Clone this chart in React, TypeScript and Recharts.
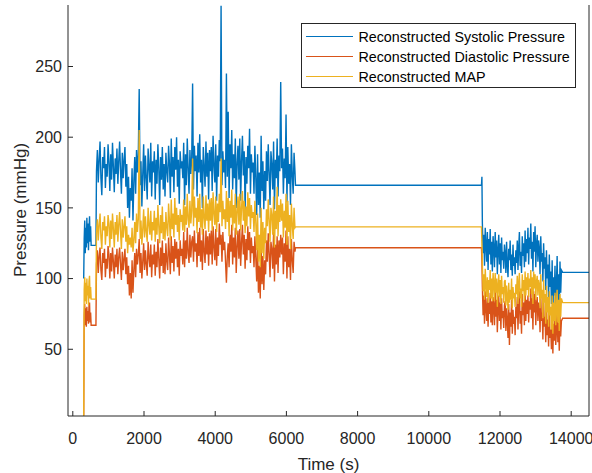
import { LineChart, Line, XAxis, YAxis, Legend, Label } from "recharts";

// sample times (s) and reconstructed pressures (mmHg), per recording segment
const T_PRE = [306, 320, 335, 350, 365, 380, 395, 410, 425, 440, 455, 470, 485, 500, 515, 650];
const SYS_PRE = [100, 128, 141, 118, 136, 122, 143, 125, 139, 120, 134, 144, 126, 137, 123.5, 123.5];
const DIA_PRE = [3, 74, 82, 67, 79, 66, 80, 70, 77, 68, 81, 83, 69, 76, 67, 67];
const MAP_PRE = [3, 92, 101, 84, 97, 82, 100, 88, 95, 81, 98, 102, 86, 94, 85.5, 85.5];

const T_MAIN = [
  665, 690, 715, 740, 765, 790, 815, 840, 865, 890, 915, 940, 965, 990, 1015, 1040,
  1065, 1090, 1115, 1140, 1165, 1190, 1215, 1240, 1265, 1290, 1315, 1340, 1365, 1390, 1415, 1440,
  1465, 1490, 1515, 1540, 1565, 1590, 1615, 1640, 1665, 1690, 1715, 1740, 1765, 1790, 1815, 1840,
  1865, 1890, 1915, 1940, 1965, 1990, 2015, 2040, 2065, 2090, 2115, 2140, 2165, 2190, 2215, 2240,
  2265, 2290, 2315, 2340, 2365, 2390, 2415, 2440, 2465, 2490, 2515, 2540, 2565, 2590, 2615, 2640,
  2665, 2690, 2715, 2740, 2765, 2790, 2815, 2840, 2865, 2890, 2915, 2940, 2965, 2990, 3015, 3040,
  3065, 3090, 3115, 3140, 3165, 3190, 3215, 3240, 3265, 3290, 3315, 3340, 3365, 3390, 3415, 3440,
  3465, 3490, 3515, 3540, 3565, 3590, 3615, 3640, 3665, 3690, 3715, 3740, 3765, 3790, 3815, 3840,
  3865, 3890, 3915, 3940, 3965, 3990, 4015, 4040, 4065, 4090, 4115, 4140, 4165, 4190, 4215, 4240,
  4265, 4290, 4315, 4340, 4365, 4390, 4415, 4440, 4465, 4490, 4515, 4540, 4565, 4590, 4615, 4640,
  4665, 4690, 4715, 4740, 4765, 4790, 4815, 4840, 4865, 4890, 4915, 4940, 4965, 4990, 5015, 5040,
  5065, 5090, 5115, 5140, 5165, 5190, 5215, 5240, 5265, 5290, 5315, 5340, 5365, 5390, 5415, 5440,
  5465, 5490, 5515, 5540, 5565, 5590, 5615, 5640, 5665, 5690, 5715, 5740, 5765, 5790, 5815, 5840,
  5865, 5890, 5915, 5940, 5965, 5990, 6015, 6040, 6065, 6090, 6115, 6140, 6165, 6190, 6215, 6240,
];
const SYS_MAIN = [
  176, 191, 168, 184, 197, 171, 159, 186, 178, 193, 164, 181, 172, 195, 183, 162,
  188, 170, 196, 179, 161, 185, 174, 192, 167, 183, 197, 176, 160, 189, 171, 184,
  193, 165, 181, 150, 172, 143, 164, 155, 178, 141, 169, 186, 160, 191, 175, 188,
  234, 166, 183, 151, 174, 195, 162, 187, 171, 156, 192, 179, 168, 196, 158, 183,
  175, 190, 156, 184, 167, 195, 178, 152, 186, 170, 193, 163, 181, 158, 189, 176,
  168, 194, 181, 157, 199, 172, 186, 161, 193, 177, 200, 165, 184, 153, 190, 178,
  183, 171, 196, 152, 188, 166, 199, 178, 160, 191, 174, 185, 238, 163, 194, 176,
  187, 158, 196, 175, 202, 168, 184, 150, 193, 179, 165, 197, 172, 189, 156, 191,
  176, 193, 162, 201, 180, 168, 195, 155, 187, 172, 198, 183, 293, 166, 190, 175,
  184, 164, 245, 172, 218, 157, 195, 178, 205, 163, 188, 171, 199, 150, 182, 194,
  170, 199, 155, 184, 201, 173, 190, 148, 186, 167, 194, 178, 206, 160, 188, 175,
  182, 160, 194, 171, 145, 188, 152, 175, 143, 201, 162, 183, 149, 176, 155, 190,
  169, 195, 174, 152, 190, 181, 163, 197, 149, 184, 171, 199, 158, 187, 176, 239,
  178, 192, 160, 185, 171, 216, 154, 193, 167, 181, 152, 195, 173, 160, 189, 176,
];
const DIA_MAIN = [
  110, 120, 104, 116, 122, 106, 99, 118, 111, 121, 101, 114, 107, 123, 117, 100,
  118, 105, 122, 112, 100, 117, 108, 121, 103, 115, 122, 110, 99, 119, 106, 114,
  121, 103, 115, 96, 109, 88, 104, 86, 113, 90, 106, 118, 101, 121, 110, 117,
  128, 104, 118, 100, 112, 125, 106, 120, 110, 102, 126, 115, 108, 124, 101, 117,
  110, 124, 102, 119, 108, 128, 114, 100, 122, 109, 127, 104, 118, 103, 125, 112,
  106, 129, 117, 103, 130, 111, 123, 105, 128, 114, 126, 108, 121, 102, 127, 116,
  121, 110, 133, 108, 127, 114, 136, 118, 111, 131, 115, 126, 130, 112, 134, 119,
  125, 108, 133, 116, 136, 112, 127, 106, 135, 119, 111, 134, 117, 130, 109, 132,
  117, 134, 110, 137, 122, 113, 135, 109, 129, 116, 139, 124, 131, 112, 133, 120,
  126, 112, 97, 116, 125, 108, 131, 119, 138, 110, 129, 115, 136, 104, 123, 134,
  114, 135, 109, 126, 138, 117, 131, 107, 128, 113, 137, 120, 133, 111, 129, 118,
  123, 108, 130, 115, 98, 122, 90, 109, 86, 125, 96, 116, 92, 113, 103, 127,
  112, 132, 118, 101, 126, 121, 107, 133, 98, 124, 110, 130, 104, 127, 115, 131,
  117, 129, 103, 125, 112, 134, 100, 130, 108, 121, 99, 128, 113, 104, 126, 119,
];
const MAP_MAIN = [
  133, 142, 127, 138, 146, 129, 121, 140, 134, 144, 124, 137, 130, 145, 139, 122,
  141, 128, 146, 135, 122, 140, 131, 145, 126, 138, 147, 133, 121, 142, 129, 137,
  144, 126, 137, 118, 131, 124, 129, 122, 136, 119, 127, 140, 125, 146, 133, 142,
  205, 128, 141, 124, 135, 149, 129, 144, 133, 126, 150, 138, 131, 148, 127, 140,
  134, 148, 126, 143, 131, 152, 137, 125, 145, 132, 151, 128, 140, 127, 147, 136,
  130, 153, 141, 127, 156, 135, 146, 129, 157, 138, 150, 133, 145, 127, 149, 140,
  145, 134, 156, 133, 151, 138, 160, 142, 136, 155, 139, 148, 185, 137, 158, 143,
  150, 132, 157, 140, 160, 136, 149, 131, 158, 143, 135, 159, 141, 153, 133, 156,
  141, 157, 134, 161, 146, 138, 158, 133, 153, 140, 160, 147, 185, 137, 155, 142,
  149, 135, 162, 140, 157, 130, 155, 143, 163, 134, 152, 139, 160, 131, 147, 158,
  138, 160, 134, 150, 162, 141, 155, 132, 151, 137, 161, 144, 157, 135, 152, 143,
  147, 133, 155, 140, 120, 146, 112, 131, 108, 150, 118, 140, 114, 136, 125, 149,
  137, 156, 141, 126, 150, 145, 131, 158, 122, 148, 135, 165, 130, 152, 140, 156,
  141, 153, 129, 148, 136, 160, 124, 155, 133, 145, 121, 153, 138, 128, 150, 136,
];

const T_GAP = [6255, 11480, 11492];
const SYS_GAP = [166, 166, 172];
const DIA_GAP = [121.8, 121.8, 112];
const MAP_GAP = [136.6, 136.6, 124];

const T_LATE = [
  11505, 11525, 11545, 11565, 11585, 11605, 11625, 11645, 11665, 11685, 11705, 11725, 11745, 11765, 11785, 11805,
  11825, 11845, 11865, 11885, 11905, 11925, 11945, 11965, 11985, 12005, 12025, 12045, 12065, 12085, 12105, 12125,
  12145, 12165, 12185, 12205, 12225, 12245, 12265, 12285, 12305, 12325, 12345, 12365, 12385, 12405, 12425, 12445,
  12465, 12485, 12505, 12525, 12545, 12565, 12585, 12605, 12625, 12645, 12665, 12685, 12705, 12725, 12745, 12765,
  12785, 12805, 12825, 12845, 12865, 12885, 12905, 12925, 12945, 12965, 12985, 13005, 13025, 13045, 13065, 13085,
  13105, 13125, 13145, 13165, 13185, 13205, 13225, 13245, 13265, 13285, 13305, 13325, 13345, 13365, 13385, 13405,
  13425, 13445, 13465, 13485, 13505, 13525, 13545, 13565, 13585, 13605, 13625, 13645, 13665, 13685, 13705, 13725,
];
const SYS_LATE = [
  139, 118, 131, 109, 136, 124, 112, 133, 106, 128, 117, 135, 110, 126, 105, 130,
  122, 108, 133, 115, 127, 103, 120, 131, 110, 125, 104, 129, 113, 119, 107, 124,
  118, 104, 126, 110, 101, 121, 113, 127, 106, 117, 102, 124, 109, 115, 103, 120,
  111, 127, 106, 122, 133, 109, 119, 104, 130, 116, 125, 108, 134, 112, 128, 118,
  136, 110, 129, 121, 139, 114, 126, 105, 133, 119, 137, 108, 124, 131, 112, 127,
  121, 103, 130, 112, 118, 98, 125, 107, 115, 92, 120, 100, 110, 86, 117, 94,
  105, 82, 113, 73, 101, 88, 109, 79, 96, 116, 84, 103, 76, 112, 90, 106,
];
const DIA_LATE = [
  94, 74, 88, 68, 91, 79, 70, 86, 66, 83, 75, 90, 69, 84, 67, 87,
  80, 67, 92, 73, 85, 62, 78, 88, 70, 83, 64, 86, 72, 77, 65, 81,
  84, 63, 79, 70, 58, 82, 53, 76, 66, 85, 61, 78, 68, 73, 60, 80,
  72, 87, 64, 81, 91, 68, 77, 61, 89, 74, 83, 67, 90, 70, 85, 75,
  88, 69, 84, 78, 93, 72, 86, 64, 91, 76, 89, 67, 82, 87, 70, 83,
  79, 62, 88, 70, 76, 57, 84, 66, 73, 55, 80, 60, 71, 52, 77, 58,
  64, 50, 72, 47, 68, 56, 75, 53, 62, 78, 55, 69, 49, 74, 59, 70,
];
const MAP_LATE = [
  110, 91, 103, 85, 107, 96, 87, 101, 83, 99, 92, 106, 86, 100, 84, 104,
  97, 84, 104, 90, 100, 80, 95, 103, 87, 99, 82, 102, 89, 94, 83, 98,
  99, 81, 95, 87, 78, 97, 83, 92, 85, 100, 79, 94, 86, 90, 80, 96,
  89, 102, 82, 97, 104, 86, 93, 80, 103, 91, 99, 84, 105, 88, 101, 92,
  104, 87, 100, 94, 106, 89, 101, 82, 105, 93, 103, 85, 98, 102, 88, 99,
  96, 79, 103, 86, 92, 72, 99, 83, 89, 68, 95, 76, 87, 66, 91, 74,
  80, 64, 88, 61, 83, 70, 90, 67, 77, 92, 69, 85, 63, 89, 73, 86,
];

const T_TAIL = [13760, 14500];
const SYS_TAIL = [104.4, 104.4];
const DIA_TAIL = [71.9, 71.9];
const MAP_TAIL = [83, 83];

const X_TICKS = [0, 2000, 4000, 6000, 8000, 10000, 12000, 14000];
const Y_TICKS = [50, 100, 150, 200, 250];

const SERIES = [
  { key: "sys", name: "Reconstructed Systolic Pressure", color: "#0072BD" },
  { key: "dia", name: "Reconstructed Diastolic Pressure", color: "#D95319" },
  { key: "map", name: "Reconstructed MAP", color: "#EDB120" },
];

const TIME = [...T_PRE, ...T_MAIN, ...T_GAP, ...T_LATE, ...T_TAIL];
const SYS = [...SYS_PRE, ...SYS_MAIN, ...SYS_GAP, ...SYS_LATE, ...SYS_TAIL];
const DIA = [...DIA_PRE, ...DIA_MAIN, ...DIA_GAP, ...DIA_LATE, ...DIA_TAIL];
const MAP = [...MAP_PRE, ...MAP_MAIN, ...MAP_GAP, ...MAP_LATE, ...MAP_TAIL];

const data = TIME.map((t, i) => ({ t, sys: SYS[i], dia: DIA[i], map: MAP[i] }));

const FONT = '"Liberation Sans", Arial, Helvetica, sans-serif';
const AXIS = "#262626";
const X_DOMAIN = [-135, 14500];
const Y_DOMAIN = [2.8, 293.5];

const tickStyle = { fontSize: 16, fill: AXIS, fontFamily: FONT };

function LegendBox() {
  return (
    <div
      style={{
        boxSizing: "border-box",
        width: 275,
        height: 65,
        border: `1px solid ${AXIS}`,
        background: "#fff",
        padding: "2.5px 0 0 4px",
        fontFamily: FONT,
        fontSize: 14.3,
        color: "#000",
      }}
    >
      {SERIES.map((s) => (
        <div key={s.key} style={{ display: "flex", alignItems: "center", height: 20.2 }}>
          <span style={{ width: 47.7, height: 0, borderTop: `1px solid ${s.color}`, marginRight: 5 }} />
          <span style={{ whiteSpace: "nowrap", lineHeight: "20px" }}>{s.name}</span>
        </div>
      ))}
    </div>
  );
}

export default function App() {
  return (
    <div style={{ position: "absolute", left: 0, top: 0, width: 592, height: 473, background: "#fff" }}>
      <LineChart width={592} height={473} data={data} margin={{ top: 5, right: 0, bottom: 0, left: 0 }}>
        <XAxis
          dataKey="t"
          type="number"
          domain={X_DOMAIN}
          allowDataOverflow
          ticks={X_TICKS}
          interval={0}
          height={57}
          stroke={AXIS}
          tickSize={-5}
          tickMargin={21.5}
          tick={tickStyle}
        >
          <Label
            content={() => (
              <text x={328.5} y={469.5} textAnchor="middle" fontSize={17} fill={AXIS} fontFamily={FONT}>
                Time (s)
              </text>
            )}
          />
        </XAxis>
        <XAxis
          xAxisId="top"
          orientation="top"
          dataKey="t"
          type="number"
          domain={X_DOMAIN}
          allowDataOverflow
          ticks={X_TICKS}
          interval={0}
          height={0}
          stroke={AXIS}
          tickSize={-5}
          tick={false}
        />
        <YAxis
          type="number"
          domain={Y_DOMAIN}
          allowDataOverflow
          ticks={Y_TICKS}
          interval={0}
          width={68}
          stroke={AXIS}
          tickSize={-5}
          tickMargin={11}
          tick={tickStyle}
        >
          <Label
            content={() => (
              <text
                x={26}
                y={210}
                transform="rotate(-90 26 210)"
                textAnchor="middle"
                fontSize={17}
                fill={AXIS}
                fontFamily={FONT}
              >
                Pressure (mmHg)
              </text>
            )}
          />
        </YAxis>
        <YAxis
          yAxisId="right"
          orientation="right"
          type="number"
          domain={Y_DOMAIN}
          allowDataOverflow
          ticks={Y_TICKS}
          interval={0}
          width={3}
          stroke={AXIS}
          tickSize={-5}
          tick={false}
        />
        <Legend
          layout="vertical"
          verticalAlign="middle"
          align="center"
          wrapperStyle={{ top: 23, left: 300.7, width: 275, height: 65 }}
          content={() => <LegendBox />}
        />
        {SERIES.map((s) => (
          <Line
            key={s.key}
            type="linear"
            dataKey={s.key}
            name={s.name}
            stroke={s.color}
            strokeWidth={1.4}
            dot={false}
            activeDot={false}
            isAnimationActive={false}
          />
        ))}
      </LineChart>
    </div>
  );
}
